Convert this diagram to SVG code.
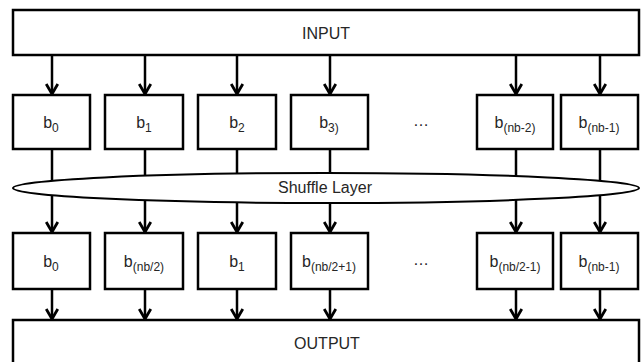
<svg xmlns="http://www.w3.org/2000/svg" width="642" height="362" viewBox="0 0 642 362">
  <defs>
    <!-- open chevron arrowhead, tip at the line end -->
    <marker id="chevd" viewBox="0 0 14 13" refX="7" refY="11.5" markerWidth="14" markerHeight="13" markerUnits="userSpaceOnUse" orient="0">
      <path d="M1.2,1.5 L7,11.5 L12.8,1.5" fill="none" stroke="#000" stroke-width="2.8" stroke-linejoin="miter"/>
    </marker>
  </defs>
  <style>
    .box { fill: #fff; stroke: #000; stroke-width: 2.5; }
    .lbl { font-family: "Liberation Sans", Arial, sans-serif; font-size: 16px; fill: #262626; text-anchor: middle; }
    .sub { font-size: 12px; }
    .wire { stroke: #000; stroke-width: 2.5; fill: none; }
    .arrow { stroke: #000; stroke-width: 2.5; fill: none; marker-end: url(#chevd); }
  </style>

  <!-- connectors -->
  <g id="connectors">
    <!-- input to first stage -->
    <line class="arrow" x1="52" y1="56" x2="52" y2="94"/>
    <line class="arrow" x1="145" y1="56" x2="145" y2="94"/>
    <line class="arrow" x1="237" y1="56" x2="237" y2="94"/>
    <line class="arrow" x1="330" y1="56" x2="330" y2="94"/>
    <line class="arrow" x1="516" y1="56" x2="516" y2="94"/>
    <line class="arrow" x1="600" y1="56" x2="600" y2="94"/>
    <!-- first stage into shuffle layer -->
    <line class="wire" x1="52" y1="149" x2="52" y2="188"/>
    <line class="wire" x1="145" y1="149" x2="145" y2="188"/>
    <line class="wire" x1="237" y1="149" x2="237" y2="188"/>
    <line class="wire" x1="330" y1="149" x2="330" y2="188"/>
    <line class="wire" x1="516" y1="149" x2="516" y2="188"/>
    <line class="wire" x1="600" y1="149" x2="600" y2="188"/>
    <!-- shuffle layer to second stage -->
    <line class="arrow" x1="52" y1="188" x2="52" y2="232"/>
    <line class="arrow" x1="145" y1="188" x2="145" y2="232"/>
    <line class="arrow" x1="237" y1="188" x2="237" y2="232"/>
    <line class="arrow" x1="330" y1="188" x2="330" y2="232"/>
    <line class="arrow" x1="516" y1="188" x2="516" y2="232"/>
    <line class="arrow" x1="600" y1="188" x2="600" y2="232"/>
    <!-- second stage to output -->
    <line class="arrow" x1="52" y1="289" x2="52" y2="319"/>
    <line class="arrow" x1="145" y1="289" x2="145" y2="319"/>
    <line class="arrow" x1="237" y1="289" x2="237" y2="319"/>
    <line class="arrow" x1="330" y1="289" x2="330" y2="319"/>
    <line class="arrow" x1="516" y1="289" x2="516" y2="319"/>
    <line class="arrow" x1="600" y1="289" x2="600" y2="319"/>
  </g>

  <g id="input">
    <rect class="box" x="13" y="10" width="626" height="45"/>
    <text class="lbl" x="326" y="39">INPUT</text>
  </g>

  <!-- first stage blocks -->
  <g id="a0"><rect class="box" x="13" y="95" width="77" height="54"/><text class="lbl" x="51" y="128">b<tspan class="sub" dy="4">0</tspan></text></g>
  <g id="a1"><rect class="box" x="105" y="95" width="78" height="54"/><text class="lbl" x="144" y="128">b<tspan class="sub" dy="4">1</tspan></text></g>
  <g id="a2"><rect class="box" x="198" y="95" width="78" height="54"/><text class="lbl" x="237" y="128">b<tspan class="sub" dy="4">2</tspan></text></g>
  <g id="a3"><rect class="box" x="291" y="95" width="77" height="54"/><text class="lbl" x="329" y="128">b<tspan class="sub" dy="4">3)</tspan></text></g>
  <g id="a-dots"><text class="lbl" x="421" y="126">…</text></g>
  <g id="a-nb2"><rect class="box" x="477" y="95" width="76" height="54"/><text class="lbl" x="515" y="128">b<tspan class="sub" dy="4">(nb-2)</tspan></text></g>
  <g id="a-nb1"><rect class="box" x="561" y="95" width="77" height="54"/><text class="lbl" x="599" y="128">b<tspan class="sub" dy="4">(nb-1)</tspan></text></g>

  <g id="shuffle">
    <ellipse cx="326" cy="188" rx="313" ry="15" fill="#fff" stroke="#000" stroke-width="2"/>
    <text class="lbl" x="325" y="193" font-size="18">Shuffle Layer</text>
  </g>

  <!-- second stage blocks -->
  <g id="c0"><rect class="box" x="13" y="233" width="77" height="56"/><text class="lbl" x="51" y="267">b<tspan class="sub" dy="4">0</tspan></text></g>
  <g id="c1"><rect class="box" x="105" y="233" width="78" height="56"/><text class="lbl" x="144" y="267">b<tspan class="sub" dy="4">(nb/2)</tspan></text></g>
  <g id="c2"><rect class="box" x="198" y="233" width="78" height="56"/><text class="lbl" x="237" y="267">b<tspan class="sub" dy="4">1</tspan></text></g>
  <g id="c3"><rect class="box" x="291" y="233" width="77" height="56"/><text class="lbl" x="329" y="267">b<tspan class="sub" dy="4">(nb/2+1)</tspan></text></g>
  <g id="c-dots"><text class="lbl" x="421" y="265">…</text></g>
  <g id="c-nb2"><rect class="box" x="477" y="233" width="76" height="56"/><text class="lbl" x="515" y="267">b<tspan class="sub" dy="4">(nb/2-1)</tspan></text></g>
  <g id="c-nb1"><rect class="box" x="561" y="233" width="77" height="56"/><text class="lbl" x="599" y="267">b<tspan class="sub" dy="4">(nb-1)</tspan></text></g>

  <g id="output">
    <rect class="box" x="13" y="320" width="626" height="60"/>
    <text class="lbl" x="327" y="349">OUTPUT</text>
  </g>
</svg>
